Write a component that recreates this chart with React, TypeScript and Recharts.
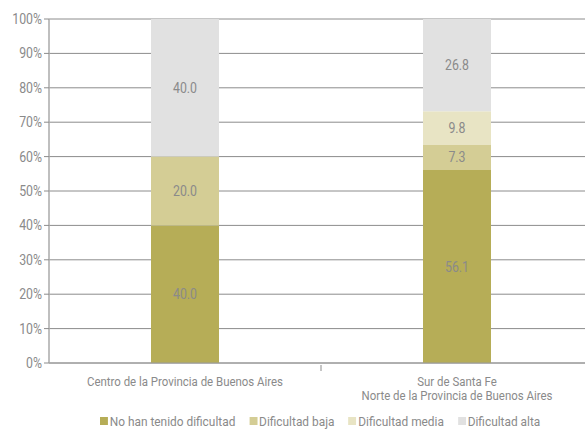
import React from "react";
import { BarChart, Bar, XAxis, YAxis, CartesianGrid, LabelList, Legend } from "recharts";

const categories = ["Centro de la Provincia de Buenos Aires", "Sur de Santa Fe\nNorte de la Provincia de Buenos Aires"];
const noDificultad = [40.0, 56.1];
const dificultadBaja = [20.0, 7.3];
const dificultadMedia = [0, 9.8];
const dificultadAlta = [40.0, 26.8];
const yTicks = [0, 10, 20, 30, 40, 50, 60, 70, 80, 90, 100];

const seriesNames = ["No han tenido dificultad", "Dificultad baja", "Dificultad media", "Dificultad alta"];
const seriesKeys = ["a", "b", "c", "d"];
const colors = ["#b6ad57", "#d4cd95", "#e8e4c4", "#e1e1e1"];

const data = categories.map((c, i) => ({
  name: c,
  a: noDificultad[i],
  b: dificultadBaja[i],
  c: dificultadMedia[i],
  d: dificultadAlta[i],
}));

const FONT = "Roboto, 'Noto Sans', sans-serif";
const TXT = "#8a8a8a";
const SX = 0.88;

const NText = ({ x, y, size, anchor, children, sx }: any) => (
  <text
    transform={`translate(${x},${y}) scale(${sx || SX},1)`}
    x={0}
    y={0}
    textAnchor={anchor}
    fill={TXT}
    fontSize={size}
    fontFamily={FONT}
  >
    {children}
  </text>
);

const XTick = (props: any) => {
  const { x, y, payload } = props;
  const lines = String(payload.value).split("\n");
  const off = payload && payload.offset ? payload.offset : 0;
  return (
    <g>
      {payload.index === 0 && off ? (
        <line x1={x + off} x2={x + off} y1={y - 6} y2={y} stroke="#8c8c8c" />
      ) : null}
      {lines.map((l: string, i: number) => (
        <NText key={i} x={x} y={y + 15 + i * 14} size={13} anchor="middle">
          {l}
        </NText>
      ))}
    </g>
  );
};

const YTick = (props: any) => {
  const { x, y, payload } = props;
  return (
    <NText x={x} y={y + 5} size={14.5} anchor="end" sx={0.85}>
      {`${payload.value}%`}
    </NText>
  );
};

const renderLabel = (props: any) => {
  const { x, y, width, height, value } = props;
  if (!value) return null;
  return (
    <NText x={x + width / 2} y={y + height / 2 + 5} size={14.5} anchor="middle" sx={0.85}>
      {Number(value).toFixed(1)}
    </NText>
  );
};

const LegendContent = () => (
  <div
    style={{
      display: "flex",
      whiteSpace: "nowrap",
      fontFamily: FONT,
      fontSize: 13.5,
      color: TXT,
      transform: `scaleX(${SX})`,
      transformOrigin: "left center",
      lineHeight: "16px",
    }}
  >
    {seriesNames.map((n, i) => (
      <span key={n} style={{ display: "inline-flex", alignItems: "center", marginRight: 16 }}>
        <span style={{ width: 9, height: 8, background: colors[i], display: "inline-block", marginRight: 2 }} />
        {n}
      </span>
    ))}
  </div>
);

export default function App() {
  return (
    <div style={{ position: "absolute", left: 0, top: 0, width: 585, height: 433, overflow: "hidden", background: "#fff" }}>
      <BarChart width={600} height={433} data={data} margin={{ top: 19, right: 7, bottom: 0, left: 0 }} barCategoryGap="37.5%">
        <CartesianGrid vertical={false} stroke="#8c8c8c" strokeWidth={1} />
        <XAxis
          dataKey="name"
          tick={<XTick />}
          tickLine={false}
          axisLine={{ stroke: "#9a9a9a" }}
          height={44}
          interval={0}
        />
        <YAxis
          domain={[0, 100]}
          ticks={yTicks}
          width={49}
          axisLine={{ stroke: "#aaaaaa", strokeWidth: 1.5 }}
          tickLine={{ stroke: "#8c8c8c" }}
          tickSize={5}
          tick={<YTick />}
          interval={0}
        />
        <Legend
          verticalAlign="bottom"
          height={26}
          content={<LegendContent />}
          wrapperStyle={{ left: 100, width: "auto", top: 413 }}
        />
        {seriesKeys.map((k, i) => (
          <Bar key={k} dataKey={k} name={seriesNames[i]} stackId="s" fill={colors[i]} isAnimationActive={false}>
            <LabelList dataKey={k} content={renderLabel} />
          </Bar>
        ))}
      </BarChart>
    </div>
  );
}
